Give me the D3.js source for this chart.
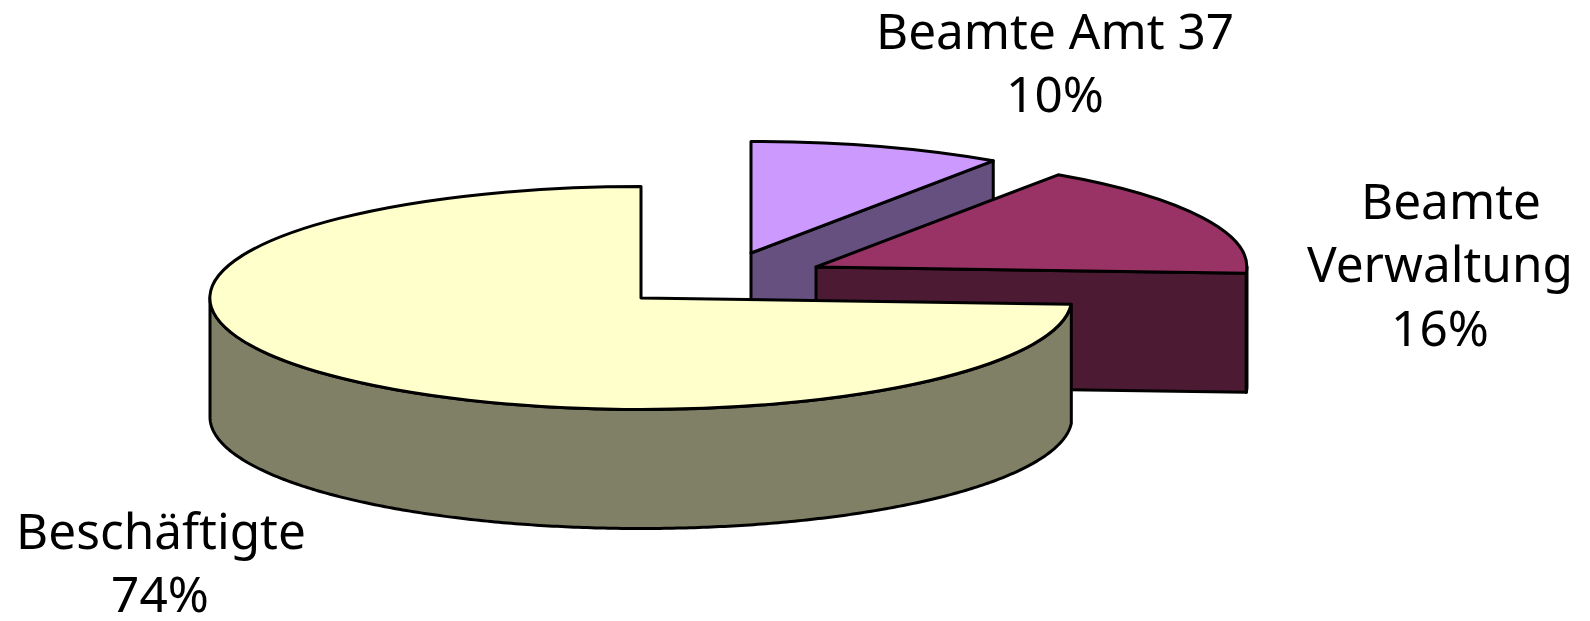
<!DOCTYPE html>
<html>
<head>
<meta charset="utf-8">
<script src="https://cdn.jsdelivr.net/npm/d3@7"></script>
<style>
  html, body { margin: 0; padding: 0; background: #fff; }
  text { font-family: "Noto Sans", sans-serif; font-size: 49.5px; fill: #000; }
</style>
</head>
<body>
<div id="chart"></div>
<script>
// values (slice sizes in percent, clockwise from 12 o'clock)
var categories = ["Beamte Amt 37", "Beamte Verwaltung", "Beschäftigte"];
var values = [9.5, 16.4, 74.1];
var nameLines = [["Beamte Amt 37"], ["Beamte", "Verwaltung"], ["Beschäftigte"]];

// styles and layout
var topColors = ["#cc99ff", "#993366", "#ffffcc"];
var sideColors = ["#66507f", "#4c1a33", "#808066"];
var explode = [[110, -45], [175, -31], [0, 0]];
var labelX = [[1055, 1055], [1451, 1440, 1440], [161, 160]];
var labelY = [49, 219, 549];
var lineHeight = 63.4;

var svgWidth = 1590, svgHeight = 621;
var cx = 641, cy = 298;   // centre of the big slice
var rx = 431, ry = 111.5; // flattened pie
var depth = 119;          // height of the walls
var strokeW = 3;

var svg = d3.select("#chart").append("svg")
    .attr("width", svgWidth)
    .attr("height", svgHeight)
    .style("display", "block");

var pie = d3.pie().sort(null).value(d => d);
var slices = pie(values);

// unit circle -> flattened ellipse
var xScale = d3.scaleLinear().domain([-1, 1]).range([-rx, rx]);
var yScale = d3.scaleLinear().domain([-1, 1]).range([-ry, ry]);
var px = a => xScale(Math.sin(a));
var py = a => yScale(-Math.cos(a));

var line = d3.line();

slices.forEach(function(s, i) {
  var g = svg.append("g")
      .attr("transform", `translate(${cx + explode[i][0]}, ${cy + explode[i][1]})`);

  // cut face at the end of the slice, only shows if it looks towards us
  if (s.endAngle < Math.PI) {
    var ex = px(s.endAngle), ey = py(s.endAngle);
    g.append("path")
        .attr("d", line([[0, 0], [ex, ey], [ex, ey + depth], [0, depth]]) + "Z")
        .attr("fill", sideColors[i])
        .attr("stroke", "#000")
        .attr("stroke-width", strokeW)
        .attr("stroke-linejoin", "round");
  }

  // outer wall, the part of the rim on the front half
  var a0 = Math.max(s.startAngle, Math.PI / 2);
  var a1 = Math.min(s.endAngle, Math.PI * 1.5);
  if (a1 > a0) {
    var angles = d3.range(a0, a1, 0.01).concat([a1]);
    var upper = angles.map(a => [px(a), py(a)]);
    var lower = angles.slice().reverse().map(a => [px(a), py(a) + depth]);
    g.append("path")
        .attr("d", line(upper.concat(lower)) + "Z")
        .attr("fill", sideColors[i])
        .attr("stroke", "#000")
        .attr("stroke-width", strokeW)
        .attr("stroke-linejoin", "round");
  }

  // top face
  var arc = d3.arc().innerRadius(0).outerRadius(1);
  g.append("path")
      .attr("transform", `scale(${rx}, ${ry})`)
      .attr("d", arc(s))
      .attr("fill", topColors[i])
      .attr("stroke", "#000")
      .attr("stroke-width", strokeW)
      .attr("stroke-linejoin", "round")
      .attr("vector-effect", "non-scaling-stroke");
});

// labels: name lines then the rounded percent
categories.forEach(function(c, i) {
  var lines = nameLines[i].concat([Math.round(values[i]) + "%"]);
  svg.append("g").selectAll("text")
      .data(lines)
      .enter()
      .append("text")
      .attr("x", (d, j) => labelX[i][j])
      .attr("y", (d, j) => labelY[i] + j * lineHeight)
      .attr("text-anchor", "middle")
      .text(d => d);
});
</script>
</body>
</html>
